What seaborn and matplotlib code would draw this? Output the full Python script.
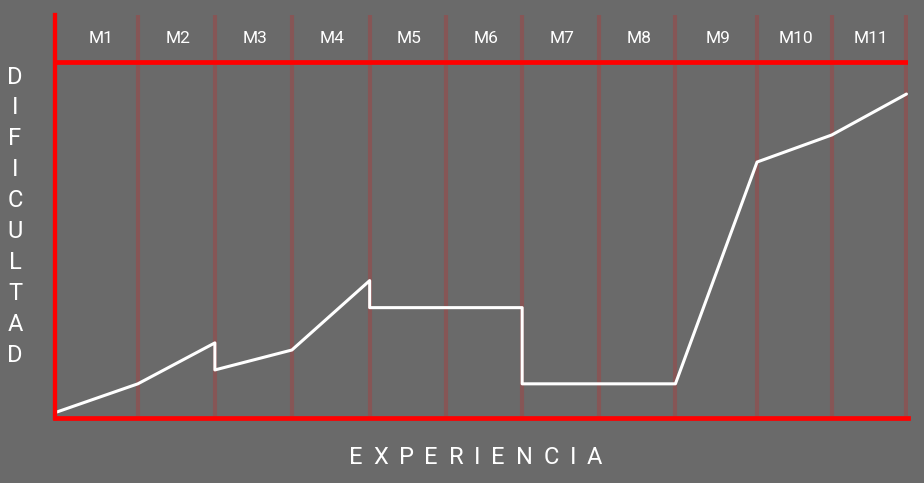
import matplotlib
matplotlib.use('Agg')
import matplotlib.pyplot as plt
import seaborn as sns
import pandas as pd

# Data
months = ['M1', 'M2', 'M3', 'M4', 'M5', 'M6', 'M7', 'M8', 'M9', 'M10', 'M11']
month_edges = [0.06, 1.05, 2.05, 3.05, 4.06, 5.05, 6.04, 7.04, 8.03, 9.09, 10.06, 11.03]
line_x = [0, 1.05, 2.05, 2.05, 3.05, 4.06, 4.06, 6.04, 6.04, 8.03, 9.09, 10.06, 11.03]
line_y = [1.7, 9.6, 21.1, 13.5, 19.1, 38.6, 31.0, 31.0, 9.6, 9.6, 71.9, 79.5, 91.0]
x_title = 'EXPERIENCIA'
y_title = 'DIFICULTAD'

bg = '#6a6a6a'
red = '#ff0000'

sns.set_theme(style='white', rc={'axes.facecolor': bg, 'figure.facecolor': bg})
plt.rcParams['font.family'] = ['Roboto', 'DejaVu Sans']

fig = plt.figure(figsize=(9.24, 4.83), dpi=100)
ax = fig.add_axes([55 / 924, 65 / 483, 853 / 924, 403 / 483])

df = pd.DataFrame({'x': line_x, 'y': line_y})

# month separators
for xe in month_edges[1:]:
    ax.axvline(xe, color='#865656', lw=3, zorder=1)

# top band line
ax.axhline(100, color=red, lw=3.4, zorder=2)

sns.lineplot(data=df, x='x', y='y', sort=False, estimator=None, color='white',
             lw=2.2, ax=ax, zorder=3)

# month labels
for i, m in enumerate(months):
    xc = (month_edges[i] + month_edges[i + 1]) / 2 + 0.02
    ax.text(xc, 106.7, m, color='white', fontsize=12.5, ha='center', va='center')

ax.set_xlim(-0.026, 11.05)
ax.set_ylim(0, 113.2)
ax.set_xticks([])
ax.set_yticks([])
ax.set_xlabel('')
ax.set_ylabel('')
for s in ['top', 'right']:
    ax.spines[s].set_visible(False)
ax.spines['left'].set_color(red)
ax.spines['left'].set_linewidth(3.1)
ax.spines['bottom'].set_color(red)
ax.spines['bottom'].set_linewidth(3.4)
ax.spines['left'].set_zorder(4)

# vertical y title, one letter per row
for i, ch in enumerate(y_title):
    fig.text(15 / 924, 1 - (77 + i * 30.9) / 483, ch, color='white', fontsize=17,
             ha='center', va='center')

# x title with wide letter spacing (tracking)
renderer = fig.canvas.get_renderer()
tracking = 10.8
letters = []
widths = []
for ch in x_title:
    t = fig.text(0, 1 - 457 / 483, ch, color='white', fontsize=17,
                 ha='left', va='center')
    letters.append(t)
    widths.append(t.get_window_extent(renderer).width)
total = sum(widths) + tracking * (len(x_title) - 1)
xpos = 475.5 - total / 2
for t, w in zip(letters, widths):
    t.set_x(xpos / 924)
    xpos += w + tracking

fig.savefig('out.png', dpi=100, facecolor=bg)
